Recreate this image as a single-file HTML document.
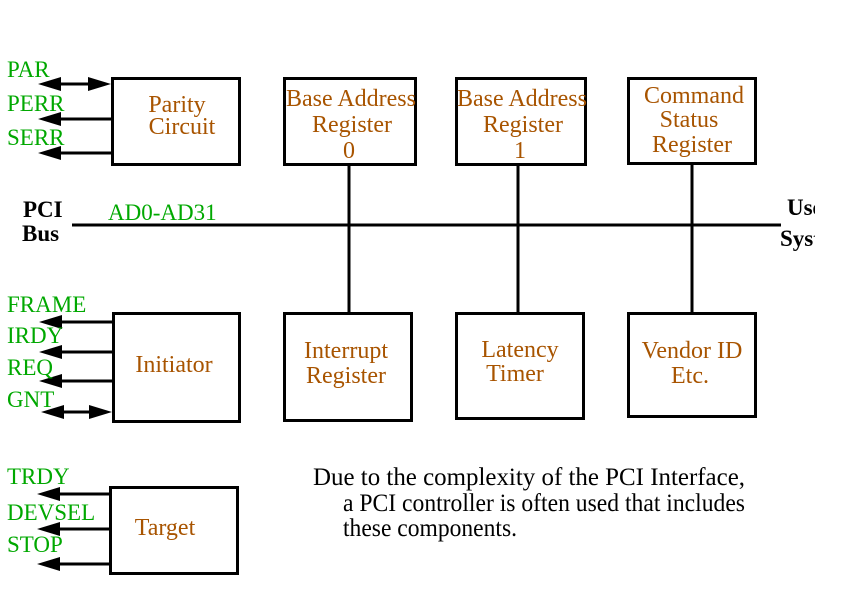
<!DOCTYPE html>
<html>
<head>
<meta charset="utf-8">
<style>
html,body{margin:0;padding:0;background:#fff;}
svg{display:block;}
text{font-family:"Liberation Serif","Times New Roman",serif;}
.g{fill:#00a800;font-size:23px;}
.b{fill:#a85400;font-size:24px;}
.k{fill:#000;font-size:23px;font-weight:bold;}
.p{fill:#000;font-size:25px;}
</style>
</head>
<body>
<svg width="864" height="596" viewBox="0 0 864 596" xmlns="http://www.w3.org/2000/svg">
<defs>
<clipPath id="c"><rect x="0" y="0" width="815" height="596"/></clipPath>
</defs>
<rect width="864" height="596" fill="#fff"/>
<g fill="none" stroke="#000" stroke-width="3">
<rect x="112.5" y="78.5" width="127" height="86"/>
<rect x="284.5" y="78.5" width="131" height="86"/>
<rect x="456.5" y="78.5" width="129" height="86"/>
<rect x="628.5" y="78.5" width="127" height="85"/>
<rect x="113.5" y="313.5" width="126" height="108"/>
<rect x="284.5" y="313.5" width="127" height="107"/>
<rect x="456.5" y="313.5" width="127" height="105"/>
<rect x="628.5" y="313.5" width="127" height="103"/>
<rect x="110.5" y="487.5" width="127" height="86"/>
<line x1="72" y1="225" x2="781" y2="225"/>
<line x1="349" y1="165" x2="349" y2="313"/>
<line x1="518" y1="165" x2="518" y2="313"/>
<line x1="692" y1="164" x2="692" y2="313"/>
<line x1="55" y1="84" x2="95" y2="84"/>
<line x1="55" y1="119" x2="111" y2="119"/>
<line x1="55" y1="153" x2="111" y2="153"/>
<line x1="56" y1="322" x2="112" y2="322"/>
<line x1="56" y1="352" x2="112" y2="352"/>
<line x1="56" y1="381" x2="112" y2="381"/>
<line x1="58" y1="412" x2="96" y2="412"/>
<line x1="54" y1="494" x2="109" y2="494"/>
<line x1="54" y1="529" x2="109" y2="529"/>
<line x1="54" y1="564" x2="109" y2="564"/>
</g>
<g fill="#000">
<polygon points="38,84 61,77 61,91"/>
<polygon points="111,84 88,77 88,91"/>
<polygon points="38,119 61,112 61,126"/>
<polygon points="38,153 61,146 61,160"/>
<polygon points="39,322 62,315 62,329"/>
<polygon points="39,352 62,345 62,359"/>
<polygon points="39,381 62,374 62,388"/>
<polygon points="41,412 64,405 64,419"/>
<polygon points="112,412 89,405 89,419"/>
<polygon points="37,494 60,487 60,501"/>
<polygon points="37,529 60,522 60,536"/>
<polygon points="37,564 60,557 60,571"/>
</g>
<text class="g" x="7" y="77">PAR</text>
<text class="g" x="7" y="111">PERR</text>
<text class="g" x="7" y="145">SERR</text>
<text class="g" x="108" y="220">AD0-AD31</text>
<text class="g" x="7" y="312">FRAME</text>
<text class="g" x="7" y="343">IRDY</text>
<text class="g" x="7" y="375">REQ</text>
<text class="g" x="7" y="407">GNT</text>
<text class="g" x="7" y="484">TRDY</text>
<text class="g" x="7" y="520">DEVSEL</text>
<text class="g" x="7" y="552">STOP</text>
<text class="k" x="23" y="217">PCI</text>
<text class="k" x="22" y="241">Bus</text>
<g clip-path="url(#c)">
<text class="k" x="787" y="215">User</text>
<text class="k" x="780" y="246">System</text>
</g>
<g text-anchor="middle">
<text class="b" x="177" y="112">Parity</text>
<text class="b" x="182" y="134">Circuit</text>
<text class="b" x="351" y="106">Base Address</text>
<text class="b" x="352" y="132">Register</text>
<text class="b" x="349" y="158">0</text>
<text class="b" x="522" y="106">Base Address</text>
<text class="b" x="523" y="132">Register</text>
<text class="b" x="520" y="158">1</text>
<text class="b" x="694" y="103">Command</text>
<text class="b" x="689" y="127">Status</text>
<text class="b" x="692" y="152">Register</text>
<text class="b" x="174" y="372">Initiator</text>
<text class="b" x="346" y="358">Interrupt</text>
<text class="b" x="346" y="383">Register</text>
<text class="b" x="520" y="357">Latency</text>
<text class="b" x="515" y="381">Timer</text>
<text class="b" x="692" y="358">Vendor ID</text>
<text class="b" x="690" y="383">Etc.</text>
<text class="b" x="165" y="535">Target</text>
</g>
<text class="p" x="313" y="485" textLength="432" lengthAdjust="spacingAndGlyphs">Due to the complexity of the PCI Interface,</text>
<text class="p" x="343" y="511" textLength="402" lengthAdjust="spacingAndGlyphs">a PCI controller is often used that includes</text>
<text class="p" x="343" y="536" textLength="174" lengthAdjust="spacingAndGlyphs">these components.</text>
</svg>
</body>
</html>
